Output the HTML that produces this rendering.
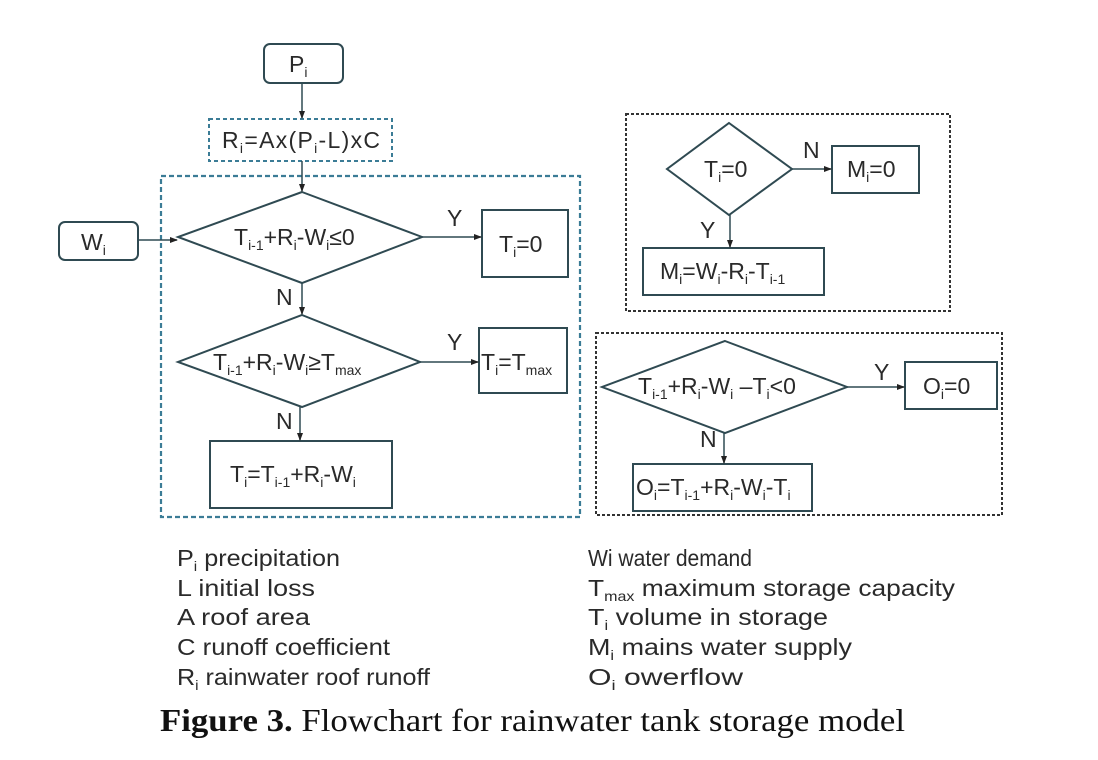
<!DOCTYPE html>
<html><head><meta charset="utf-8"><style>
html,body{margin:0;padding:0;background:#fff;}
svg{display:block;}
text{font-family:"Liberation Sans",Arial,sans-serif;fill:#2a2a2a;}
.s{font-size:14px;}
</style></head><body>
<svg width="1098" height="760" viewBox="0 0 1098 760" xmlns="http://www.w3.org/2000/svg">
<defs>
<marker id="a" markerWidth="8" markerHeight="8" refX="7" refY="4" orient="auto" markerUnits="userSpaceOnUse">
<path d="M0,1 L8,4 L0,7 z" fill="#222"/></marker>
</defs>
<g stroke="#2f4a52" stroke-width="2" fill="none">
<rect x="161" y="176" width="419" height="341" stroke="#3b7c96" stroke-dasharray="5,3" stroke-width="2.2"/>
<rect x="209" y="119" width="183" height="42" stroke="#3b7c96" stroke-dasharray="4,3"/>
<rect x="626" y="114" width="324" height="197" stroke="#333" stroke-dasharray="3,2"/>
<rect x="596" y="333" width="406" height="182" stroke="#333" stroke-dasharray="3,2"/>
<rect x="264" y="44" width="79" height="39" rx="6"/>
<rect x="59" y="222" width="79" height="38" rx="6"/>
<polygon points="302,192 422,237 302,283 178,237"/>
<polygon points="302,315 420,362 302,407 178,362"/>
<polygon points="729,123 792,169 729,215 667,169"/>
<polygon points="725,341 847,387 725,433 602,387"/>
<rect x="482" y="210" width="86" height="67"/>
<rect x="479" y="328" width="88" height="65"/>
<rect x="210" y="441" width="182" height="67"/>
<rect x="832" y="146" width="87" height="47"/>
<rect x="643" y="248" width="181" height="47"/>
<rect x="905" y="362" width="92" height="47"/>
<rect x="633" y="464" width="179" height="47"/>
</g>
<g stroke="#2f4a52" stroke-width="1.5" fill="none" marker-end="url(#a)">
<line x1="302" y1="83" x2="302" y2="118"/>
<line x1="302" y1="161" x2="302" y2="191"/>
<line x1="138" y1="240" x2="177" y2="240"/>
<line x1="422" y1="237" x2="481" y2="237"/>
<line x1="302" y1="283" x2="302" y2="314"/>
<line x1="420" y1="362" x2="478" y2="362"/>
<line x1="300" y1="407" x2="300" y2="440"/>
<line x1="792" y1="169" x2="831" y2="169"/>
<line x1="730" y1="215" x2="730" y2="247"/>
<line x1="847" y1="387" x2="904" y2="387"/>
<line x1="724" y1="433" x2="724" y2="463"/>
</g>
<g font-size="23">
<text x="289" y="72">P<tspan class="s" dy="5">i</tspan></text>
<text x="222" y="148" textLength="158">R<tspan class="s" dy="5">i</tspan><tspan dy="-5">=Ax(P</tspan><tspan class="s" dy="5">i</tspan><tspan dy="-5">-L)xC</tspan></text>
<text x="81" y="250">W<tspan class="s" dy="5">i</tspan></text>
<text x="234" y="245">T<tspan class="s" dy="5">i-1</tspan><tspan dy="-5">+R</tspan><tspan class="s" dy="5">i</tspan><tspan dy="-5">-W</tspan><tspan class="s" dy="5">i</tspan><tspan dy="-5">≤0</tspan></text>
<text x="499" y="252">T<tspan class="s" dy="5">i</tspan><tspan dy="-5">=0</tspan></text>
<text x="213" y="370">T<tspan class="s" dy="5">i-1</tspan><tspan dy="-5">+R</tspan><tspan class="s" dy="5">i</tspan><tspan dy="-5">-W</tspan><tspan class="s" dy="5">i</tspan><tspan dy="-5">≥T</tspan><tspan class="s" dy="5">max</tspan></text>
<text x="481" y="370">T<tspan class="s" dy="5">i</tspan><tspan dy="-5">=T</tspan><tspan class="s" dy="5">max</tspan></text>
<text x="230" y="482">T<tspan class="s" dy="5">i</tspan><tspan dy="-5">=T</tspan><tspan class="s" dy="5">i-1</tspan><tspan dy="-5">+R</tspan><tspan class="s" dy="5">i</tspan><tspan dy="-5">-W</tspan><tspan class="s" dy="5">i</tspan></text>
<text x="704" y="177">T<tspan class="s" dy="5">i</tspan><tspan dy="-5">=0</tspan></text>
<text x="847" y="177">M<tspan class="s" dy="5">i</tspan><tspan dy="-5">=0</tspan></text>
<text x="660" y="279">M<tspan class="s" dy="5">i</tspan><tspan dy="-5">=W</tspan><tspan class="s" dy="5">i</tspan><tspan dy="-5">-R</tspan><tspan class="s" dy="5">i</tspan><tspan dy="-5">-T</tspan><tspan class="s" dy="5">i-1</tspan></text>
<text x="638" y="394">T<tspan class="s" dy="5">i-1</tspan><tspan dy="-5">+R</tspan><tspan class="s" dy="5">i</tspan><tspan dy="-5">-W</tspan><tspan class="s" dy="5">i</tspan><tspan dy="-5"> –T</tspan><tspan class="s" dy="5">i</tspan><tspan dy="-5">&lt;0</tspan></text>
<text x="923" y="394">O<tspan class="s" dy="5">i</tspan><tspan dy="-5">=0</tspan></text>
<text x="636" y="495">O<tspan class="s" dy="5">i</tspan><tspan dy="-5">=T</tspan><tspan class="s" dy="5">i-1</tspan><tspan dy="-5">+R</tspan><tspan class="s" dy="5">i</tspan><tspan dy="-5">-W</tspan><tspan class="s" dy="5">i</tspan><tspan dy="-5">-T</tspan><tspan class="s" dy="5">i</tspan></text>
<text x="447" y="226">Y</text>
<text x="447" y="350">Y</text>
<text x="276" y="305">N</text>
<text x="276" y="429">N</text>
<text x="803" y="158">N</text>
<text x="700" y="238">Y</text>
<text x="874" y="380">Y</text>
<text x="700" y="447">N</text>
</g>
<g font-size="23">
<text x="177" y="566" textLength="163" lengthAdjust="spacingAndGlyphs">P<tspan class="s" dy="5">i</tspan><tspan dy="-5"> precipitation</tspan></text>
<text x="177" y="596" textLength="138" lengthAdjust="spacingAndGlyphs">L  initial loss</text>
<text x="177" y="625" textLength="133" lengthAdjust="spacingAndGlyphs">A  roof area</text>
<text x="177" y="655" textLength="213" lengthAdjust="spacingAndGlyphs">C runoff coefficient</text>
<text x="177" y="685" textLength="253" lengthAdjust="spacingAndGlyphs">R<tspan class="s" dy="5">i</tspan><tspan dy="-5"> rainwater roof runoff</tspan></text>
<text x="588" y="566" textLength="164" lengthAdjust="spacingAndGlyphs">Wi water demand</text>
<text x="588" y="596" textLength="367" lengthAdjust="spacingAndGlyphs">T<tspan class="s" dy="5">max</tspan><tspan dy="-5"> maximum storage capacity</tspan></text>
<text x="588" y="625" textLength="240" lengthAdjust="spacingAndGlyphs">T<tspan class="s" dy="5">i</tspan><tspan dy="-5"> volume in storage</tspan></text>
<text x="588" y="655" textLength="264" lengthAdjust="spacingAndGlyphs">M<tspan class="s" dy="5">i</tspan><tspan dy="-5"> mains water supply</tspan></text>
<text x="588" y="685" textLength="155" lengthAdjust="spacingAndGlyphs">O<tspan class="s" dy="5">i</tspan><tspan dy="-5">  owerflow</tspan></text>
</g>
<text x="160" y="731" font-size="32" style="font-family:'Liberation Serif',serif;fill:#111" textLength="745" lengthAdjust="spacingAndGlyphs"><tspan font-weight="bold">Figure 3.</tspan> Flowchart for rainwater tank storage model</text>
</svg>
</body></html>
